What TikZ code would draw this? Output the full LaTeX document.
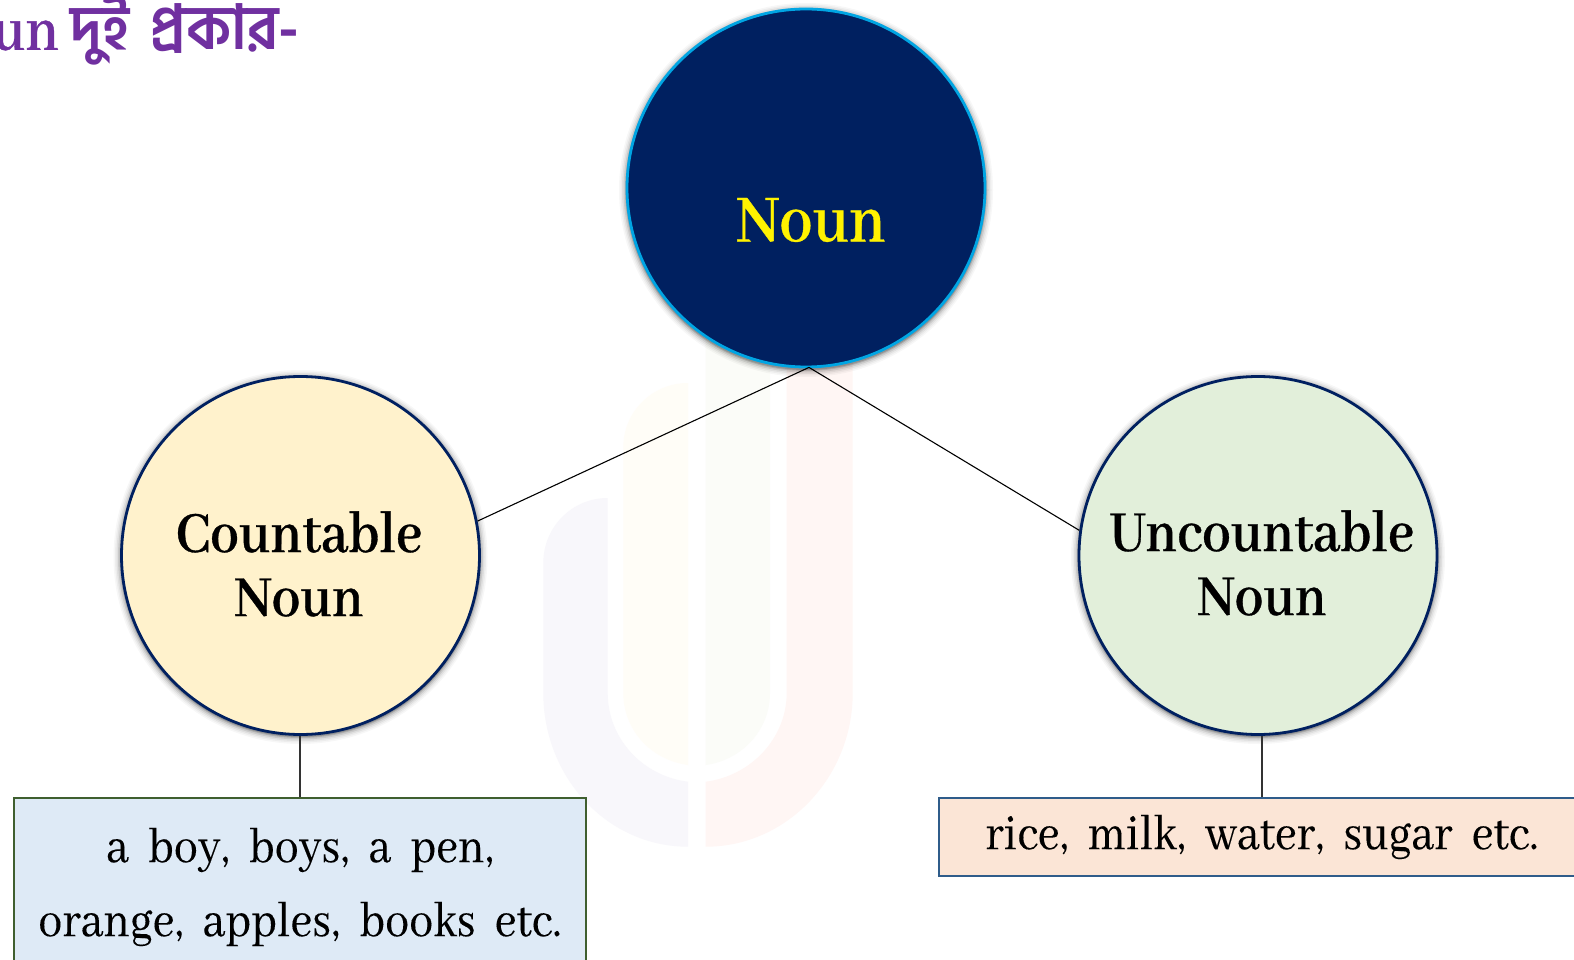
\documentclass[tikz,border=0pt]{standalone}
\usepackage{fontspec}
\setmainfont{Abhaya Libre}
\newfontfamily\bodyfont[FakeStretch=0.89,WordSpace=2.1,FakeBold=0.12]{Abhaya Libre}
\newfontfamily\headfont[FakeStretch=0.895,BoldFeatures={FakeBold=0.5}]{Abhaya Libre}
\newfontfamily\bnfont[Script=Bengali,FakeStretch=0.95,WordSpace=1.5]{Hind Siliguri}
\usetikzlibrary{calc}
\definecolor{navy}{HTML}{002060}
\definecolor{sky}{HTML}{00A5E3}
\definecolor{cream}{HTML}{FFF2CC}
\definecolor{mint}{HTML}{E2EFDA}
\definecolor{paleblue}{HTML}{DEEAF6}
\definecolor{peach}{HTML}{FBE5D6}
\definecolor{boxgreen}{HTML}{3F5F2F}
\definecolor{boxblue}{HTML}{2F5C8A}
\definecolor{titlepurple}{HTML}{7030A0}
\definecolor{wmA}{HTML}{F8F7FB}
\definecolor{wmB}{HTML}{FFFDF7}
\definecolor{wmC}{HTML}{FBFCF8}
\definecolor{wmD}{HTML}{FFF6F4}
\tikzset{
  disc/.style={circle,minimum size=358pt,inner sep=0pt,line width=2.8pt},
  caption/.style={font=\headfont\fontsize{64}{64}\selectfont\bfseries,align=center,text=black},
  listbox/.style={rectangle,inner sep=0pt,line width=2pt,font=\bodyfont\fontsize{54}{74}\selectfont,align=center,text=black},
  link/.style={black,line width=1.1pt},
  drop/.style={black!80,line width=1.3pt}
}
\newcommand{\softshadow}[2]{%
  \foreach \e/\o in {8/0.03,6.5/0.04,5/0.06,3.5/0.09,2/0.13,1/0.16}{
    \fill[black,opacity=\o] (#1) circle ({#2+\e});
  }}
\begin{document}
\begin{tikzpicture}[x=1pt,y=-1pt]
\useasboundingbox (0,0) rectangle (1574,960);
\clip (0,0) rectangle (1574,960);
\fill[white] (0,0) rectangle (1574,960);
% watermark
\fill[wmA] (607.7,498) .. controls (572,498) and (543.3,527) .. (543.3,563) -- (543.3,693)
  .. controls (543.3,777) and (607,846.7) .. (688,846.7) -- (688,781.7)
  .. controls (642,776) and (607.7,738) .. (607.7,693) -- cycle;
\fill[wmB] (688,383) .. controls (652,383) and (623.3,412) .. (623.3,447) -- (623.3,693)
  .. controls (623.3,730) and (651,760) .. (688,765) -- cycle;
\fill[wmC] (705.7,340) -- (770,340) -- (770,693)
  .. controls (770,730) and (742,760) .. (705.7,765) -- cycle;
\fill[wmD] (786.7,340) -- (852.7,340) -- (852.7,693)
  .. controls (852.7,777) and (787,846.7) .. (705.7,846.7) -- (705.7,781.7)
  .. controls (751,776) and (786.7,738) .. (786.7,693) -- cycle;
% shadows
\softshadow{806,190}{179}
\softshadow{300.5,557}{179}
\softshadow{1258,557}{179}
% nodes
\node[disc,draw=sky,fill=navy] (noun) at (806,188) {};
\node[disc,draw=navy,fill=cream] (count) at (300.5,555.5) {};
\node[disc,draw=navy,fill=mint] (unc) at (1258,555.5) {};
\node[caption,text=yellow,font=\headfont\fontsize{74}{74}\selectfont\bfseries] (nountext) at (811,220) {Noun};
\node[caption] (counttext) at (299,564) {Countable\\Noun};
\node[caption] (unctext) at (1262,563) {Uncountable\\Noun};
\node[listbox,draw=boxgreen,fill=paleblue,minimum width=572pt,minimum height=178pt,anchor=north] (lbox) at (300,797) {a boy, boys, a pen,\\orange, apples, books etc.};
\node[listbox,draw=boxblue,fill=peach,minimum width=646pt,minimum height=78pt,anchor=north] (rbox) at (1262,797) {rice, milk, water, sugar etc.};
\node[font=\headfont\fontsize{68}{68}\selectfont\bfseries,text=titlepurple,anchor=east] (title) at (303,31) {Noun {\bnfont\fontsize{62}{62}\selectfont দুই প্রকার-}};
% connectors
\draw[link] ($(noun.south)+(3,-1)$) -- (count.11.4);
\draw[link] ($(noun.south)+(3,-1)$) -- (unc.172);
\draw[drop] (lbox.north) -- (lbox.north |- count.south);
\draw[drop] (rbox.north) -- (rbox.north |- unc.south);
\end{tikzpicture}
\end{document}
